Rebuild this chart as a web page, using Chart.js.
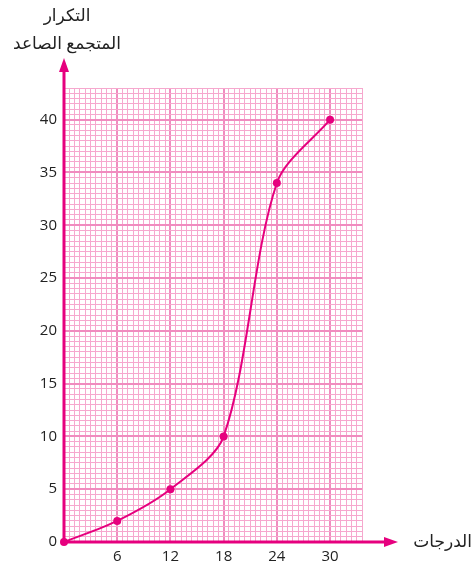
<!DOCTYPE html>
<html>
<head>
<meta charset="utf-8">
<script src="https://cdn.jsdelivr.net/npm/chart.js@4"></script>
<style>
  html, body { margin: 0; padding: 0; background: #fff; }
  #wrap { width: 473px; height: 564px; position: relative; }
</style>
</head>
<body>
<div id="wrap"><canvas id="chart1" width="473" height="564"></canvas></div>
<script>
// cumulative frequency curve
const grades = [0, 6, 12, 18, 24, 30];
const cumFreq = [0, 2, 5, 10, 34, 40];
const xTickLabels = [6, 12, 18, 24, 30];
const yTickLabels = [0, 5, 10, 15, 20, 25, 30, 35, 40];
const yTitle = ["التكرار", "المتجمع الصاعد"];
const xTitle = "الدرجات";

const MAGENTA = "#e6007e";
const X_MAX = 33.6, Y_MAX = 43;
const X_STEP = 0.6, Y_STEP = 0.5;

function gridTicks(max, step) {
  const t = [];
  for (let i = 0; i * step <= max + 1e-9; i++) t.push({ value: +(i * step).toFixed(2) });
  return t;
}

function gridColor(ctx) {
  return ctx.index % 10 === 0 ? "#f08cbf" : "#f6a8ce";
}
function gridWidth(ctx) {
  return ctx.index % 10 === 0 ? 2 : 1;
}

// axis arrows + titles
const axesPlugin = {
  id: "axesArrows",
  afterDraw(chart) {
    const c = chart.ctx, xs = chart.scales.x, ys = chart.scales.y;
    const ox = xs.getPixelForValue(0), oy = ys.getPixelForValue(0);
    const top = ys.getPixelForValue(Y_MAX);
    const right = xs.getPixelForValue(X_MAX);
    c.save();
    c.strokeStyle = MAGENTA; c.fillStyle = MAGENTA; c.lineWidth = 3;
    // y axis
    c.beginPath(); c.moveTo(ox, oy); c.lineTo(ox, top - 18); c.stroke();
    c.beginPath(); c.moveTo(ox, top - 30); c.lineTo(ox - 5, top - 16); c.lineTo(ox + 5, top - 16); c.closePath(); c.fill();
    // x axis
    c.beginPath(); c.moveTo(ox, oy); c.lineTo(right + 24, oy); c.stroke();
    c.beginPath(); c.moveTo(right + 36, oy); c.lineTo(right + 22, oy - 5); c.lineTo(right + 22, oy + 5); c.closePath(); c.fill();
    // titles
    c.fillStyle = "#222";
    c.font = "17px 'Noto Sans', 'DejaVu Sans', sans-serif";
    c.textBaseline = "middle";
    c.direction = "rtl";
    c.textAlign = "center";
    c.fillText(yTitle[0], ox + 3, 16);
    c.fillText(yTitle[1], ox + 3, 44);
    c.textAlign = "right";
    c.fillText(xTitle, 472, oy);
    c.restore();
  }
};

const tickFont = { family: "'Open Sans', 'Noto Sans', sans-serif", size: 15 };

const ctx = document.getElementById("chart1").getContext("2d");
new Chart(ctx, {
  type: "line",
  data: {
    datasets: [{
      data: grades.map((g, i) => ({ x: g, y: cumFreq[i] })),
      borderColor: MAGENTA,
      backgroundColor: MAGENTA,
      borderWidth: 2,
      pointRadius: 4,
      pointBackgroundColor: MAGENTA,
      pointBorderWidth: 0,
      tension: 0.3,
      clip: false
    }]
  },
  options: {
    responsive: false,
    animation: false,
    layout: { padding: { left: 0, top: 88, right: 111, bottom: 0 } },
    plugins: { legend: { display: false }, tooltip: { enabled: false } },
    scales: {
      x: {
        type: "linear", min: 0, max: X_MAX,
        afterBuildTicks: s => { s.ticks = gridTicks(X_MAX, X_STEP); },
        afterFit: s => { s.height = 22; },
        border: { display: false },
        grid: { color: gridColor, lineWidth: gridWidth, drawTicks: false },
        ticks: {
          autoSkip: false, maxRotation: 0, padding: 6,
          color: "#222", font: tickFont,
          callback: v => xTickLabels.includes(Math.round(v * 100) / 100) ? String(Math.round(v)) : ""
        }
      },
      y: {
        type: "linear", min: 0, max: Y_MAX,
        afterBuildTicks: s => { s.ticks = gridTicks(Y_MAX, Y_STEP); },
        afterFit: s => { s.width = 64; },
        border: { display: false },
        grid: { color: gridColor, lineWidth: gridWidth, drawTicks: false },
        ticks: {
          autoSkip: false, padding: 7,
          color: "#222", font: tickFont,
          callback: v => yTickLabels.includes(Math.round(v * 100) / 100) ? String(Math.round(v)) : ""
        }
      }
    }
  },
  plugins: [axesPlugin]
});
</script>
</body>
</html>
